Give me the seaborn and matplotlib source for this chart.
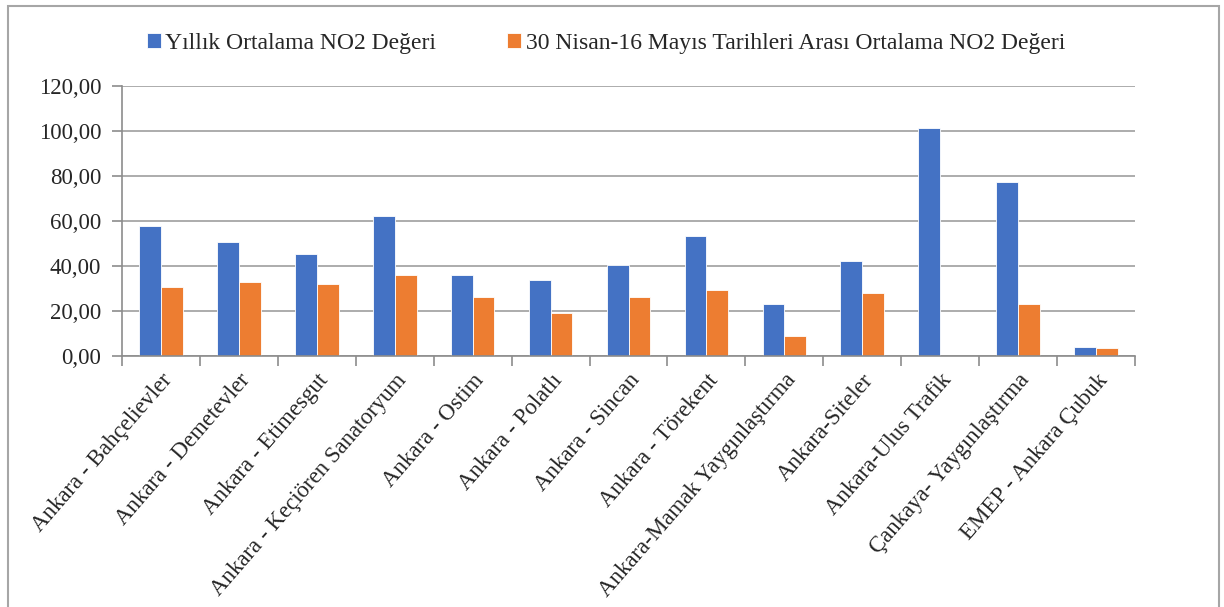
import numpy as np
import pandas as pd
import matplotlib
matplotlib.use("Agg")
import matplotlib.pyplot as plt
from matplotlib.patches import Rectangle
import seaborn as sns

stations = [
    "Ankara - Bahçelievler", "Ankara - Demetevler", "Ankara - Etimesgut",
    "Ankara - Keçiören Sanatoryum", "Ankara - Ostim", "Ankara - Polatlı",
    "Ankara - Sincan", "Ankara - Törekent", "Ankara-Mamak Yaygınlaştırma",
    "Ankara-Siteler", "Ankara-Ulus Trafik", "Çankaya- Yaygınlaştırma",
    "EMEP - Ankara Çubuk",
]
annual = [57.8, 50.5, 45.3, 62.2, 36.0, 33.6, 40.4, 53.3, 23.0, 42.4, 101.3, 77.2, 4.1]
period = [30.8, 32.9, 32.0, 35.8, 26.1, 19.3, 26.1, 29.2, 8.9, 28.0, np.nan, 23.1, 3.7]
series_names = ["Yıllık Ortalama NO2 Değeri",
                "30 Nisan-16 Mayıs Tarihleri Arası Ortalama NO2 Değeri"]
colors = ["#4472C4", "#ED7D31"]
yticks = [0, 20, 40, 60, 80, 100, 120]

df = pd.DataFrame({
    "station": stations * 2,
    "value": annual + period,
    "series": [series_names[0]] * len(stations) + [series_names[1]] * len(stations),
})

sns.set_theme(style="white")
plt.rcParams["font.family"] = ["Liberation Serif", "DejaVu Serif"]
FS = 16.5

fig = plt.figure(figsize=(12.24, 6.07), dpi=100)
ax = fig.add_axes([122 / 1224, 1 - 356 / 607, (1135 - 122) / 1224, (356 - 86) / 607])

sns.barplot(data=df, x="station", y="value", hue="series", order=stations,
            hue_order=series_names, palette=colors, width=0.56, errorbar=None,
            edgecolor="white", linewidth=0.6, saturation=1, ax=ax, legend=True)

ax.set_ylim(0, 120)
ax.set_xlim(-0.5, len(stations) - 0.5)
ax.set_yticks(yticks)
ax.set_yticklabels([f"{v:.2f}".replace(".", ",") for v in yticks], fontsize=FS)
ax.yaxis.grid(True, color="#A6A6A6", linewidth=1.3)
ax.set_axisbelow(True)
ax.set_xlabel("")
ax.set_ylabel("")

for s in ["top", "right"]:
    ax.spines[s].set_visible(False)
for s in ["left", "bottom"]:
    ax.spines[s].set_color("#8C8C8C")
    ax.spines[s].set_linewidth(1.2)

ax.tick_params(axis="y", which="major", length=7, width=1.2, color="#8C8C8C",
               pad=8, left=True, labelsize=FS)
ax.set_xticks(range(len(stations)))
ax.set_xticklabels(stations, rotation=49, ha="right", rotation_mode="anchor",
                   fontsize=FS)
ax.tick_params(axis="x", which="major", length=0, pad=10)
ax.set_xticks(np.arange(-0.5, len(stations), 1), minor=True)
ax.tick_params(axis="x", which="minor", length=7, width=1.2, color="#8C8C8C",
               bottom=True)

leg = ax.legend(loc="center", bbox_to_anchor=(606 / 1224, 1 - 43 / 607),
                bbox_transform=fig.transFigure, ncol=2, frameon=False,
                prop={"family": "Liberation Serif", "size": 17},
                handlelength=0.6, handleheight=0.6,
                handletextpad=0.2, columnspacing=3.0)

fig.patches.append(Rectangle((8 / 1224, -0.05), (1219 - 8) / 1224, 1 - 6 / 607 + 0.05,
                             transform=fig.transFigure, fill=False,
                             edgecolor="#A6A6A6", linewidth=1.5))

fig.savefig("out.png", dpi=100)
